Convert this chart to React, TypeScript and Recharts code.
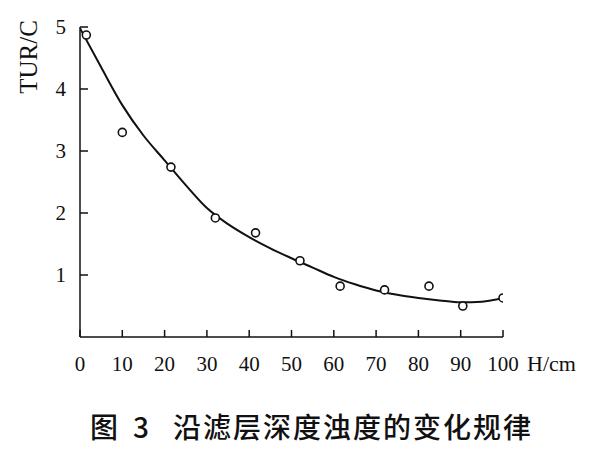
import React from 'react';
import { ComposedChart, Line, Scatter, XAxis, YAxis } from 'recharts';

// 沿滤层深度浊度的变化规律 — 拟合曲线 + 实测点

const curveDepth = [0, 5, 10, 15, 20, 25, 30, 35, 40, 45, 50, 55, 60, 65, 70, 75, 80, 85, 90, 95, 100];
const curveTur = [4.98, 4.35, 3.74, 3.25, 2.85, 2.45, 2.08, 1.82, 1.61, 1.43, 1.27, 1.12, 0.97, 0.85, 0.75, 0.68, 0.63, 0.59, 0.56, 0.57, 0.63];

const sampleDepth = [1.5, 10, 21.5, 32, 41.5, 52, 61.5, 72, 82.5, 90.5, 100];
const sampleTur = [4.87, 3.3, 2.74, 1.92, 1.68, 1.23, 0.82, 0.76, 0.82, 0.5, 0.63];

const xTicks = [0, 10, 20, 30, 40, 50, 60, 70, 80, 90, 100];
const yTicks = [1, 2, 3, 4, 5];

const curveData = curveDepth.map((h, i) => ({ h, tur: curveTur[i] }));
const sampleData = sampleDepth.map((h, i) => ({ h, tur: sampleTur[i] }));

const FONT = '"Liberation Serif", "DejaVu Serif", serif';

function XTick(props: any) {
  const { x, y, payload } = props;
  return (
    <g>
      <line x1={x} y1={y} x2={x} y2={y - 7} stroke="#111" strokeWidth={1.5} />
      <text x={x} y={y + 34} textAnchor="middle" fontFamily={FONT} fontSize={21} fill="#111">
        {payload.value}
      </text>
    </g>
  );
}

function YTick(props: any) {
  const { x, y, payload } = props;
  return (
    <g>
      <line x1={x} y1={y} x2={x + 8} y2={y} stroke="#111" strokeWidth={1.5} />
      <text x={x - 14} y={y + 7} textAnchor="end" fontFamily={FONT} fontSize={21} fill="#111">
        {payload.value}
      </text>
    </g>
  );
}

function OpenDot(props: any) {
  const { cx, cy } = props;
  return <circle cx={cx} cy={cy} r={4} fill="#fff" stroke="#111" strokeWidth={1.6} />;
}

export default function App() {
  return (
    <div style={{ position: 'absolute', left: 0, top: 0, width: 600, height: 450, background: '#fff' }}>
      <ComposedChart width={600} height={450} margin={{ top: 27, right: 97, bottom: 83, left: 40 }}>
        <XAxis
          type="number"
          dataKey="h"
          domain={[0, 100]}
          ticks={xTicks}
          height={30}
          tickSize={0}
          tickMargin={0}
          tickLine={false}
          axisLine={{ stroke: '#111', strokeWidth: 1.5 }}
          tick={<XTick />}
          allowDataOverflow
        />
        <YAxis
          type="number"
          dataKey="tur"
          domain={[0, 5]}
          ticks={yTicks}
          width={40}
          tickSize={0}
          tickMargin={0}
          tickLine={false}
          axisLine={{ stroke: '#111', strokeWidth: 1.5 }}
          tick={<YTick />}
          allowDataOverflow
        />
        <Line
          data={curveData}
          dataKey="tur"
          type="monotone"
          stroke="#111"
          strokeWidth={2}
          dot={false}
          isAnimationActive={false}
        />
        <Scatter data={sampleData} dataKey="tur" shape={<OpenDot />} isAnimationActive={false} />
      </ComposedChart>
      <svg width={600} height={450} style={{ position: 'absolute', left: 0, top: 0, pointerEvents: 'none' }}>
        <text
          x={28}
          y={57}
          transform="rotate(-90 28 57)"
          textAnchor="middle"
          dominantBaseline="central"
          fontFamily={FONT}
          fontSize={25}
          fill="#111"
        >
          TUR/C
        </text>
        <text x={527} y={371} fontFamily={FONT} fontSize={22} fill="#111">
          H/cm
        </text>
        <text
          x={90}
          y={438}
          fontFamily='"Noto Sans CJK SC", sans-serif'
          fontSize={28}
          fontWeight={500}
          fill="#111"
        >
          图
          <tspan x={133}>3</tspan>
          <tspan x={173} letterSpacing={2}>沿滤层深度浊度的变化规律</tspan>
        </text>
      </svg>
    </div>
  );
}
